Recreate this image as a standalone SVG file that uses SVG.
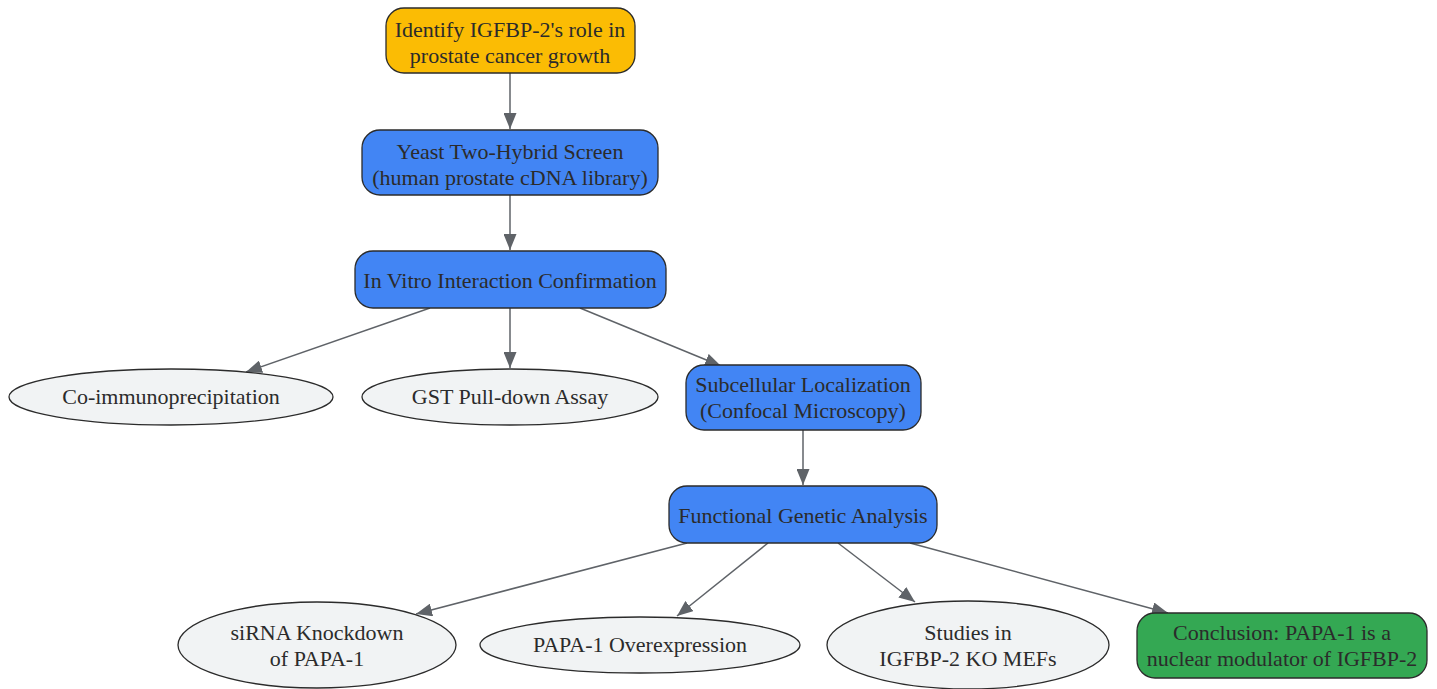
<svg xmlns="http://www.w3.org/2000/svg" width="1437" height="689" viewBox="0 0 1437 689">
<defs>
<marker id="ah" viewBox="0 0 16 13" refX="16" refY="6.5" markerWidth="16" markerHeight="13" markerUnits="userSpaceOnUse" orient="auto">
<path d="M0,0 L16,6.5 L0,13 Z" fill="#5f6368"/>
</marker>
<style>
.e{stroke:#5f6368;stroke-width:1.5;fill:none;marker-end:url(#ah)}
.n{stroke:#2b2b2b;stroke-width:1.3}
.b{fill:#4285f4}
.g{fill:#f1f3f4}
.t{font-family:"Liberation Serif",serif;font-size:22px;fill:#2b2b2b;text-anchor:middle}
</style>
</defs>
<rect width="1437" height="689" fill="#ffffff"/>
<g id="connectors">
<line class="e" x1="510" y1="73" x2="510" y2="129"/>
<line class="e" x1="510" y1="195" x2="510" y2="250"/>
<line class="e" x1="430" y1="308" x2="246" y2="372"/>
<line class="e" x1="510" y1="308" x2="510" y2="368"/>
<line class="e" x1="580" y1="308" x2="721" y2="366"/>
<line class="e" x1="803" y1="430" x2="803" y2="485"/>
<line class="e" x1="687" y1="543" x2="416" y2="614"/>
<line class="e" x1="768" y1="543" x2="677" y2="616"/>
<line class="e" x1="838" y1="543" x2="915" y2="602"/>
<line class="e" x1="910" y1="543" x2="1168" y2="613"/>
</g>
<g id="n1">
<rect class="n" x="386" y="8" width="249" height="65" rx="18" fill="#fbbc04"/>
<text class="t" x="510" y="37">Identify IGFBP-2's role in</text>
<text class="t" x="510" y="63">prostate cancer growth</text>
</g>
<g id="n2">
<rect class="n b" x="362" y="130" width="296" height="65" rx="18"/>
<text class="t" x="510" y="159">Yeast Two-Hybrid Screen</text>
<text class="t" x="510" y="185">(human prostate cDNA library)</text>
</g>
<g id="n3">
<rect class="n b" x="355" y="251" width="311" height="57" rx="18"/>
<text class="t" x="510" y="288">In Vitro Interaction Confirmation</text>
</g>
<g id="n4">
<ellipse class="n g" cx="171" cy="397" rx="162" ry="28"/>
<text class="t" x="171" y="404">Co-immunoprecipitation</text>
</g>
<g id="n5">
<ellipse class="n g" cx="510" cy="397" rx="148" ry="28"/>
<text class="t" x="510" y="404">GST Pull-down Assay</text>
</g>
<g id="n6">
<rect class="n b" x="686" y="365" width="235" height="65" rx="18"/>
<text class="t" x="803" y="392">Subcellular Localization</text>
<text class="t" x="803" y="418">(Confocal Microscopy)</text>
</g>
<g id="n7">
<rect class="n b" x="669" y="486" width="268" height="57" rx="18"/>
<text class="t" x="803" y="523">Functional Genetic Analysis</text>
</g>
<g id="n8">
<ellipse class="n g" cx="317" cy="645" rx="139" ry="43"/>
<text class="t" x="317" y="640">siRNA Knockdown</text>
<text class="t" x="317" y="666">of PAPA-1</text>
</g>
<g id="n9">
<ellipse class="n g" cx="640" cy="645" rx="160" ry="28"/>
<text class="t" x="640" y="652">PAPA-1 Overexpression</text>
</g>
<g id="n10">
<ellipse class="n g" cx="968" cy="645" rx="141" ry="44"/>
<text class="t" x="968" y="640">Studies in</text>
<text class="t" x="968" y="666">IGFBP-2 KO MEFs</text>
</g>
<g id="n11">
<rect class="n" x="1137" y="613" width="290" height="65" rx="18" fill="#34a853"/>
<text class="t" x="1282" y="640">Conclusion: PAPA-1 is a</text>
<text class="t" x="1282" y="666">nuclear modulator of IGFBP-2</text>
</g>
</svg>
